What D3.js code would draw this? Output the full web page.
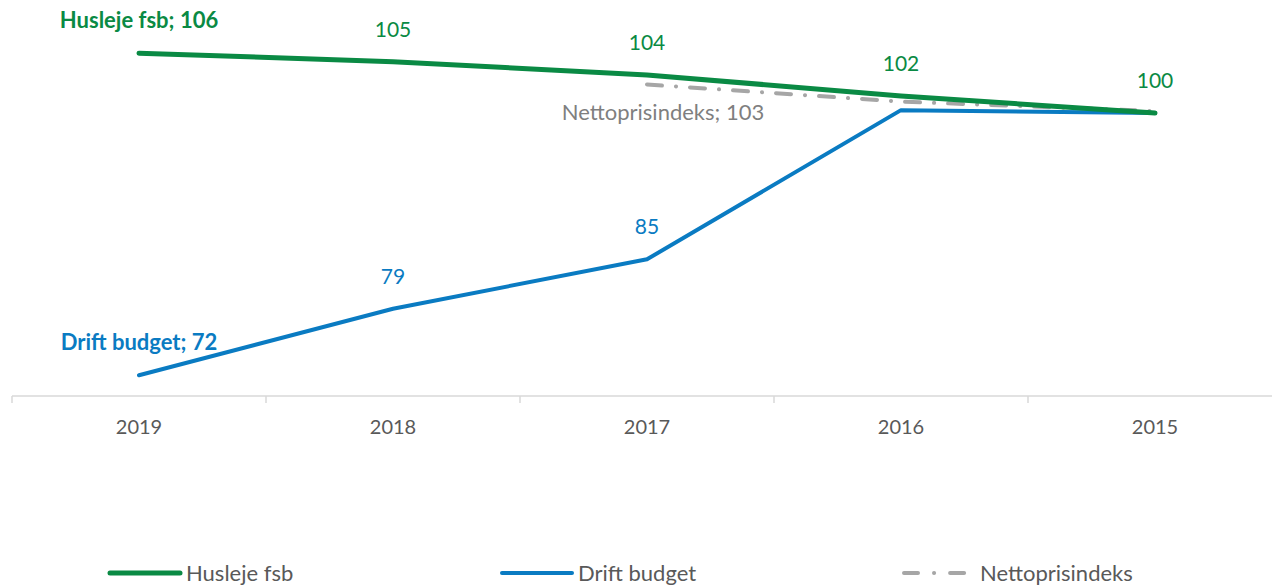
<!DOCTYPE html>
<html>
<head>
<meta charset="utf-8">
<script src="https://cdn.jsdelivr.net/npm/d3@7"></script>
<style>
  body { margin: 0; background: #fff; }
  text { font-family: Lato, "Open Sans", sans-serif; }
</style>
</head>
<body>
<svg id="chart" width="1272" height="587"></svg>
<script>
const years = ['2019', '2018', '2017', '2016', '2015'];
const husleje = [106.3, 105.4, 104.0, 101.8, 100.0];
const drift = [72.4, 79.4, 84.6, 100.3, 100.0];
const netto = [null, null, 103.0, 101.2, 100.2];

const svg = d3.select('#chart');

const x = d3.scaleBand()
  .domain(years)
  .range([12, 12 + 254 * 5]);

const y = d3.scaleLinear()
  .domain([70, 110])
  .range([398, 18]);

const cx = d => x(d) + x.bandwidth() / 2;

// x axis
const xAxisG = svg.append('g')
  .attr('transform', 'translate(0,396)');

xAxisG.append('line')
  .attr('x1', 12).attr('x2', 1272)
  .attr('stroke', '#d9d9d9').attr('stroke-width', 1.5);

xAxisG.selectAll('.tk')
  .data(years.concat(['end']))
  .enter().append('line')
  .attr('x1', (d, i) => 12 + i * x.step())
  .attr('x2', (d, i) => 12 + i * x.step())
  .attr('y1', 0).attr('y2', 7)
  .attr('stroke', '#d9d9d9').attr('stroke-width', 1.5);

xAxisG.selectAll('.lab')
  .data(years)
  .enter().append('text')
  .attr('x', d => cx(d))
  .attr('y', 38)
  .attr('text-anchor', 'middle')
  .attr('fill', '#595959')
  .style('font-size', '20px')
  .text(d => d);

const series = [
  {name: 'Husleje fsb', values: husleje, color: '#0a8a44', width: 5, dash: null,
   labels: [0, 1, 2, 3, 4], named: 0, dy: -25},
  {name: 'Drift budget', values: drift, color: '#0a7bc2', width: 4, dash: null,
   labels: [0, 1, 2], named: 0, dy: -25},
  {name: 'Nettoprisindeks', values: netto, color: '#a6a6a6', width: 4, dash: '15,14,0.1,14',
   labels: [2], named: 2, dy: 35}
];

const line = d3.line()
  .defined(d => d[1] != null)
  .x(d => cx(d[0]))
  .y(d => y(d[1]));

// draw netto under the others
[series[2], series[1], series[0]].forEach(s => {
  svg.append('path')
    .datum(years.map((yr, i) => [yr, s.values[i]]))
    .attr('d', line)
    .attr('fill', 'none')
    .attr('stroke', s.color)
    .attr('stroke-width', s.width)
    .attr('stroke-linecap', 'round')
    .attr('stroke-linejoin', 'round')
    .attr('stroke-dasharray', s.dash);
});

// data labels
series.forEach(s => {
  s.labels.forEach(i => {
    const isNamed = i === s.named;
    const grey = s.name === 'Nettoprisindeks';
    svg.append('text')
      .attr('x', cx(years[i]) + (grey ? 16 : 0))
      .attr('y', y(s.values[i]) + s.dy)
      .attr('text-anchor', 'middle')
      .attr('fill', grey ? '#7f7f7f' : s.color)
      .style('font-size', isNamed ? '22px' : '21px')
      .style('font-weight', isNamed && !grey ? 'bold' : 'normal')
      .text(isNamed ? `${s.name}; ${Math.round(s.values[i])}` : Math.round(s.values[i]));
  });
});

// legend
const legendX = [110, 502, 904];
series.forEach((s, i) => {
  const lg = svg.append('g').attr('transform', `translate(${legendX[i]},573)`);
  lg.append('line')
    .attr('x1', 0).attr('x2', 70)
    .attr('stroke', s.color)
    .attr('stroke-width', s.width)
    .attr('stroke-linecap', 'round')
    .attr('stroke-dasharray', s.dash ? '14,16,0.1,16' : null);
  lg.append('text')
    .attr('x', 76)
    .attr('y', 8)
    .attr('fill', '#595959')
    .style('font-size', '22px')
    .text(s.name);
});
</script>
</body>
</html>
